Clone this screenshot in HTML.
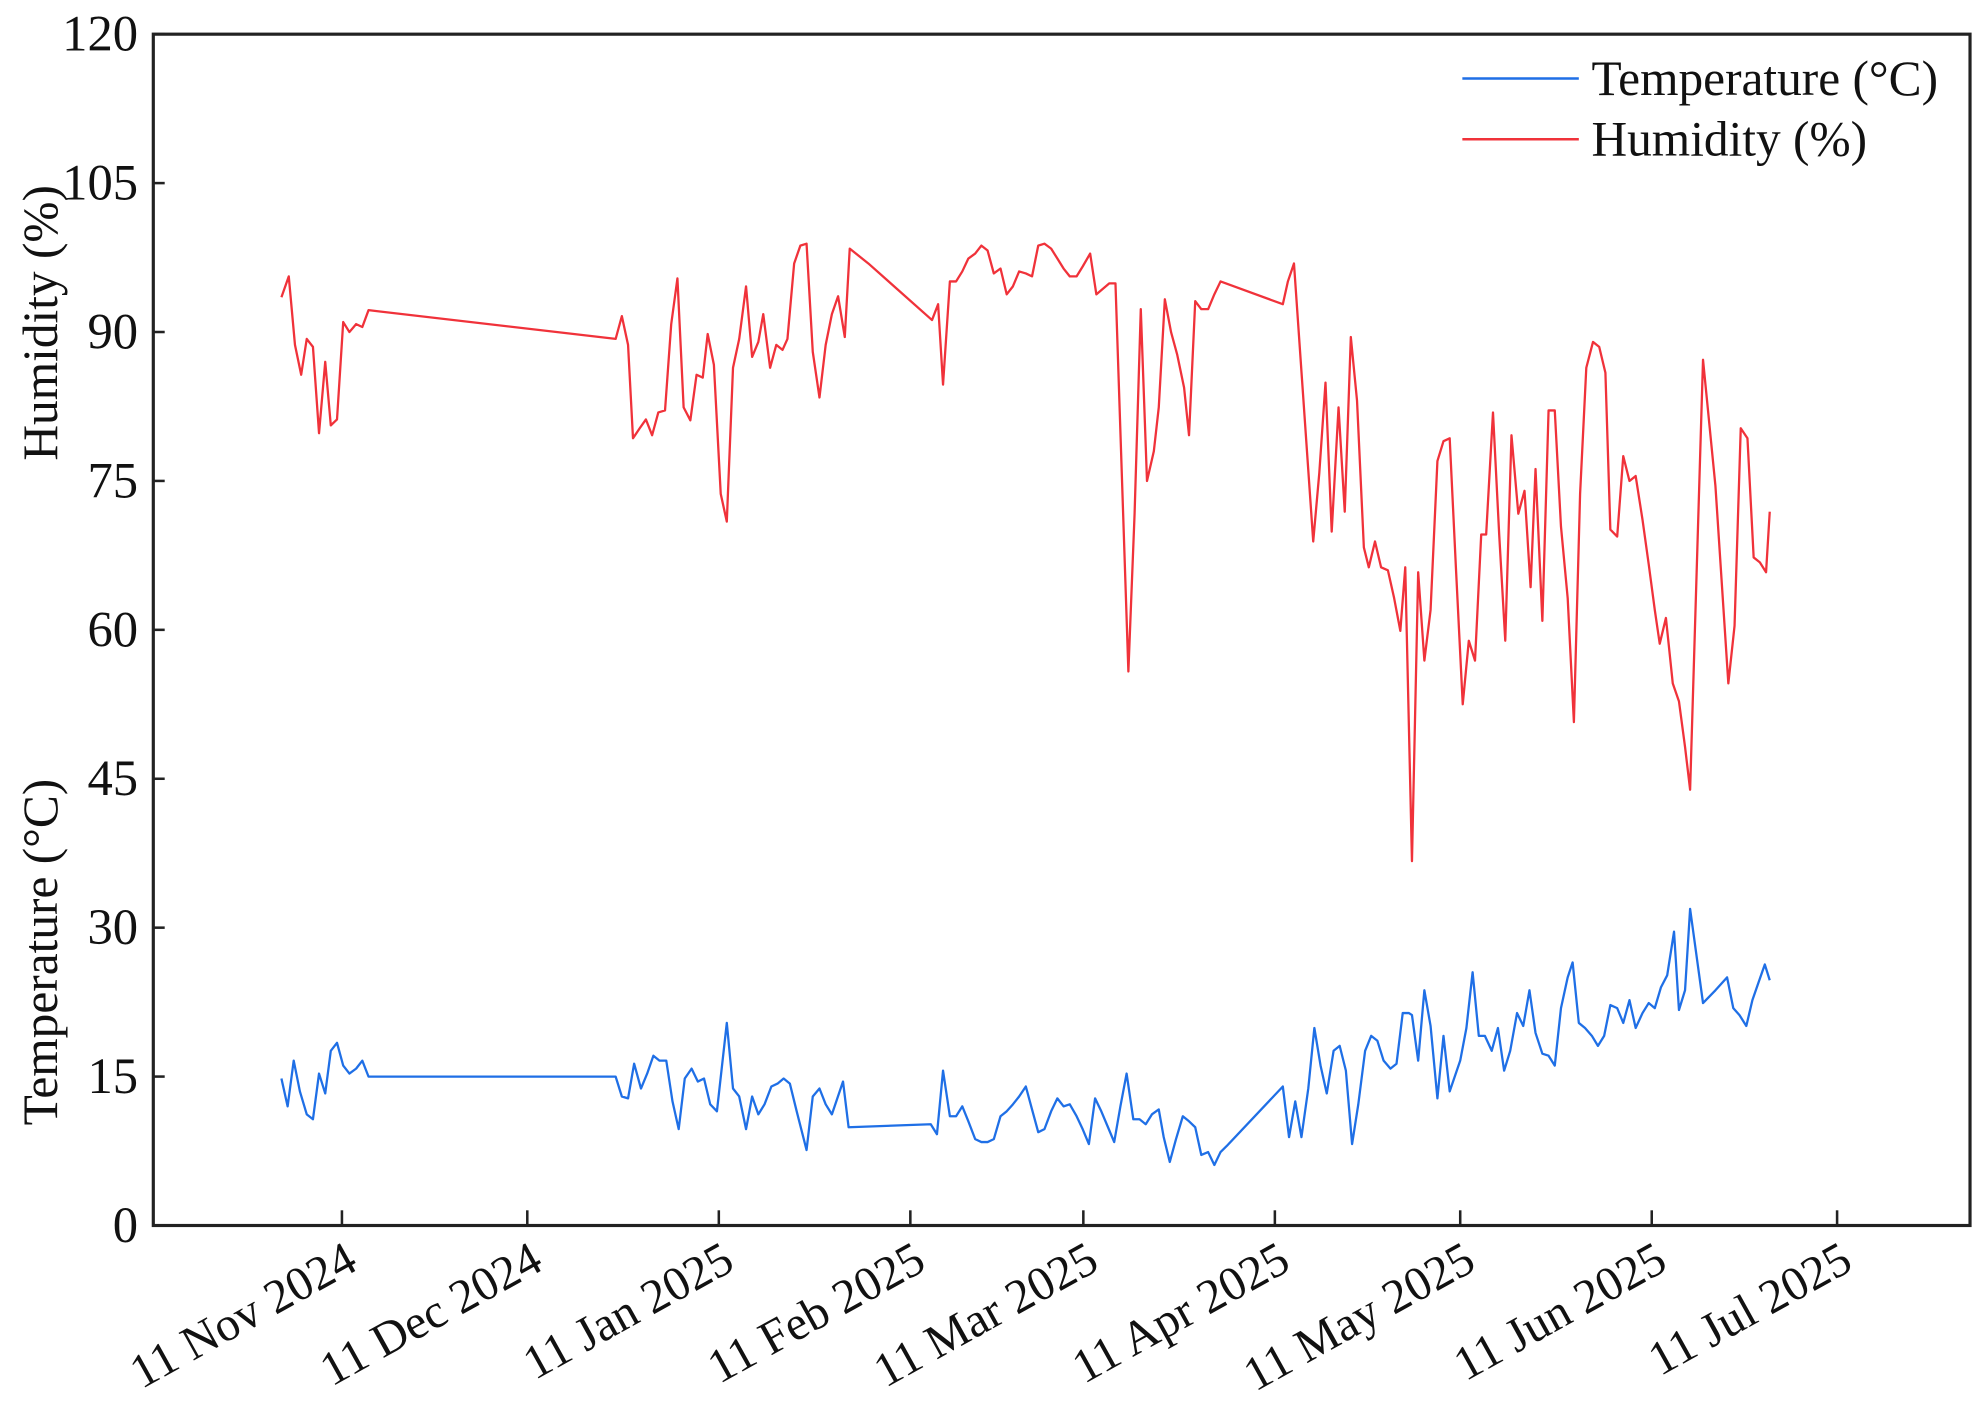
<!DOCTYPE html>
<html><head><meta charset="utf-8"><style>
html,body{margin:0;padding:0;background:#fff;}
svg{display:block;}
text{font-family:"Liberation Serif",serif;fill:#111;}
</style></head><body>
<svg id="chart" width="1979" height="1404" viewBox="0 0 1563 1109" xmlns="http://www.w3.org/2000/svg">
<g id="plot"></g>
</svg>
<script>
// x values: days offset from 11 Nov 2024
const humDays = [-9.8,-8.6,-7.6,-6.6,-5.7,-4.7,-3.7,-2.7,-1.8,-0.8,0.2,1.2,2.3,3.3,4.3,44.3,45.3,46.3,47.1,48.2,49.2,50.2,51.2,52.3,53.3,54.3,55.3,56.4,57.4,58.4,59.2,60.2,61.3,62.3,63.3,64.3,65.4,66.4,67.4,68.2,69.3,70.3,71.3,72.1,73.2,74.2,75.2,76.2,77.3,78.3,79.3,80.3,81.4,82.2,85.2,95.5,96.5,97.3,98.4,99.4,100.4,101.4,102.5,103.5,104.5,105.5,106.6,107.6,108.6,109.6,110.7,111.7,112.7,113.7,114.8,115.8,116.8,117.8,118.9,119.9,121.1,122.1,124.2,125.2,127.3,128.3,129.3,130.3,131.4,132.2,133.2,134.2,135.2,136.3,137.1,138.1,139.1,140.2,141.2,142.2,152.3,153.1,154.1,157.2,158.2,159.2,160.2,161.3,162.3,163.3,164.3,165.4,166.2,167.2,168.2,169.3,170.3,171.3,172.1,173.2,174.2,175.2,176.2,177.3,178.3,179.3,180.3,181.4,182.4,183.4,184.4,185.2,186.3,187.3,188.3,189.3,190.4,191.4,192.4,193.2,194.3,195.3,196.3,197.3,198.4,199.4,200.4,201.4,202.5,203.5,204.5,205.3,206.4,207.4,208.4,209.4,210.5,211.5,212.5,213.3,214.3,215.4,216.4,217.4,218.2,220.3,222.3,224.4,225.4,226.4,227.5,228.5,229.5,230.5,231.1];
const humValues = [93.5,95.6,88.7,85.7,89.3,88.5,79.8,87,80.6,81.2,91,90,90.8,90.5,92.2,89.3,91.6,88.7,79.3,80.3,81.2,79.6,81.9,82.1,90.8,95.4,82.4,81.1,85.7,85.4,89.8,86.7,73.7,70.9,86.4,89.3,94.6,87.5,89,91.8,86.4,88.7,88.2,89.3,96.9,98.7,98.9,88,83.4,88.7,91.8,93.6,89.5,98.4,96.9,91.2,92.8,84.7,95.1,95.1,96.1,97.4,97.9,98.7,98.2,95.9,96.4,93.8,94.6,96.1,95.9,95.6,98.7,98.9,98.4,97.4,96.4,95.6,95.6,96.6,97.9,93.8,94.9,94.9,55.8,71.7,92.3,75,78,82.4,93.3,90,87.7,84.4,79.6,93.1,92.3,92.3,93.8,95.1,92.8,95.1,96.9,68.9,75.8,84.9,69.9,82.4,71.9,89.5,83.1,68.3,66.3,68.9,66.3,66,63.2,59.9,66.3,36.7,65.8,56.9,62,77,79,79.3,66.3,52.5,58.9,56.9,69.6,69.6,81.9,69.6,58.9,79.6,71.7,74,64.3,76.2,60.9,82.1,82.1,70.4,63.2,50.7,73.7,86.4,89,88.5,85.9,70.1,69.4,77.5,75,75.5,71.1,66.6,62,58.6,61.2,54.6,52.8,48.2,43.9,87.2,74.5,54.6,60.4,80.3,79.3,67.3,66.8,65.8,71.9];
const tempDays = [-9.8,-8.8,-7.8,-6.8,-5.7,-4.7,-3.7,-2.7,-1.8,-0.8,0.2,1.2,2.3,3.3,4.3,44.3,45.3,46.3,47.3,48.4,49.4,50.4,51.4,52.5,53.5,54.5,55.5,56.6,57.6,58.6,59.6,60.7,62.3,63.3,64.3,65.4,66.4,67.4,68.4,69.5,70.5,71.5,72.5,73.6,75.2,76.2,77.3,78.3,79.3,81.1,82.0,95.3,96.3,97.3,98.4,99.4,100.4,101.4,102.5,103.5,104.5,105.5,106.6,107.6,108.6,109.6,110.7,111.7,112.7,113.7,114.8,115.8,116.8,117.8,118.9,119.9,120.9,121.9,122.9,124.0,125.0,126.0,127.0,128.1,129.1,130.1,131.1,132.2,133.0,134.0,135.0,136.1,137.1,138.1,139.1,140.2,141.2,142.2,143.2,152.3,153.3,154.3,155.3,156.4,157.4,158.4,159.4,160.5,161.5,162.5,163.5,164.5,165.6,166.6,167.6,168.6,169.7,170.7,171.7,172.7,173.2,174.2,175.2,176.2,177.3,178.3,179.3,181.0,182.0,183.0,184.0,185.0,186.1,187.1,188.1,189.1,190.2,191.2,192.2,193.2,194.3,195.3,196.3,197.3,198.4,199.2,200.2,201.2,202.3,203.3,204.3,205.3,206.4,207.4,208.4,209.4,210.5,211.5,212.5,213.5,214.5,215.6,216.4,217.4,218.2,220.3,222.3,224.2,225.2,226.2,227.3,228.3,229.3,230.3,231.1];
const tempValues = [14.8,12,16.6,13.5,11.2,10.7,15.3,13.3,17.6,18.4,16.1,15.3,15.8,16.6,15,15,13,12.8,16.3,13.8,15.3,17.1,16.6,16.6,12.5,9.7,14.8,15.8,14.5,14.8,12.2,11.5,20.4,13.8,13,9.7,13,11.2,12.2,14,14.3,14.8,14.3,11.5,7.6,13,13.8,12.2,11.2,14.5,9.9,10.2,9.2,15.6,11,11,12,10.5,8.7,8.4,8.4,8.7,11,11.5,12.2,13,14,11.7,9.4,9.7,11.5,12.8,12,12.2,11,9.7,8.2,12.8,11.5,9.9,8.4,12,15.3,10.7,10.7,10.2,11.2,11.7,8.9,6.4,8.7,11,10.5,9.9,7.1,7.4,6.1,7.4,8,14,8.9,12.5,8.9,13.8,19.9,16.1,13.3,17.6,18.1,15.6,8.2,12.2,17.6,19.1,18.6,16.6,15.8,16.3,21.4,21.4,21.2,16.6,23.7,20.1,12.8,19.1,13.5,16.6,19.9,25.5,19.1,19.1,17.6,19.9,15.6,17.6,21.4,20.1,23.7,19.4,17.3,17.1,16.1,21.9,25,26.5,20.4,19.9,19.1,18.1,19.1,22.2,21.9,20.4,22.7,19.9,21.4,22.4,21.9,24,25.2,29.6,21.7,23.7,31.9,22.4,23.7,25,21.9,21.2,20.1,22.7,24.5,26.3,24.7];
const yTickLabels = ["0","15","30","45","60","75","90","105","120"];
const xTickLabels = ["11 Nov 2024","11 Dec 2024","11 Jan 2025","11 Feb 2025","11 Mar 2025","11 Apr 2025","11 May 2025","11 Jun 2025","11 Jul 2025"];
const xTickDays = [0,30,61,92,120,151,181,212,242];

const NS="http://www.w3.org/2000/svg";
const L=121,R=1556,T=27,B=968;
function xs(d){return 270 + d*(1451-270)/242;}
function ys(v){return B - v*(B-T)/120;}
const g=document.getElementById('plot');
function mk(tag,attrs){const e=document.createElementNS(NS,tag);for(const k in attrs)e.setAttribute(k,attrs[k]);g.appendChild(e);return e;}

let fr=mk('rect',{x:L,y:T,width:R-L,height:B-T,fill:'none',stroke:'#222','stroke-width':2.5});



yTickLabels.forEach(function(lab){
  const v=parseFloat(lab), y=ys(v);
  const t=mk('line',{x1:L,x2:L+9,y1:y,y2:y,stroke:'#222','stroke-width':2});
  
  
  const tx=mk('text',{x:L-12,y:y+13,'text-anchor':'end','font-size':40});
  tx.textContent=lab;
  
  
});
xTickLabels.forEach(function(lab,i){
  const x=xs(xTickDays[i]);
  const t=mk('line',{x1:x,x2:x,y1:B,y2:B-12,stroke:'#222','stroke-width':2});
  
  
  const tx=mk('text',{x:0,y:0,'text-anchor':'end','font-size':38,transform:'translate('+(x+14)+','+(B+34)+') rotate(-29)'});
  tx.textContent=lab;
  
  
});

let a1=mk('text',{x:0,y:0,'text-anchor':'middle','font-size':39,transform:'translate(45,255) rotate(-90)'});
a1.textContent='Humidity (%)';


let a2=mk('text',{x:0,y:0,'text-anchor':'middle','font-size':39,transform:'translate(45,752) rotate(-90)'});
a2.textContent='Temperature (°C)';



function pts(days,vals){return days.map(function(d,i){return xs(d).toFixed(1)+','+ys(vals[i]).toFixed(1);}).join(' ');}
let hl=mk('polyline',{points:pts(humDays,humValues),fill:'none',stroke:'#f0323a','stroke-width':1.8,'stroke-linejoin':'round'});


let tl=mk('polyline',{points:pts(tempDays,tempValues),fill:'none',stroke:'#1f6fe6','stroke-width':1.8,'stroke-linejoin':'round'});



let lg1=mk('line',{x1:1155,x2:1247,y1:62,y2:62,stroke:'#1f6fe6','stroke-width':2});


let lt1=mk('text',{x:1257,y:75,'font-size':39});
lt1.textContent='Temperature (°C)';


let lg2=mk('line',{x1:1155,x2:1247,y1:110,y2:110,stroke:'#f0323a','stroke-width':2});


let lt2=mk('text',{x:1257,y:123,'font-size':39});
lt2.textContent='Humidity (%)';


</script>
</body></html>
